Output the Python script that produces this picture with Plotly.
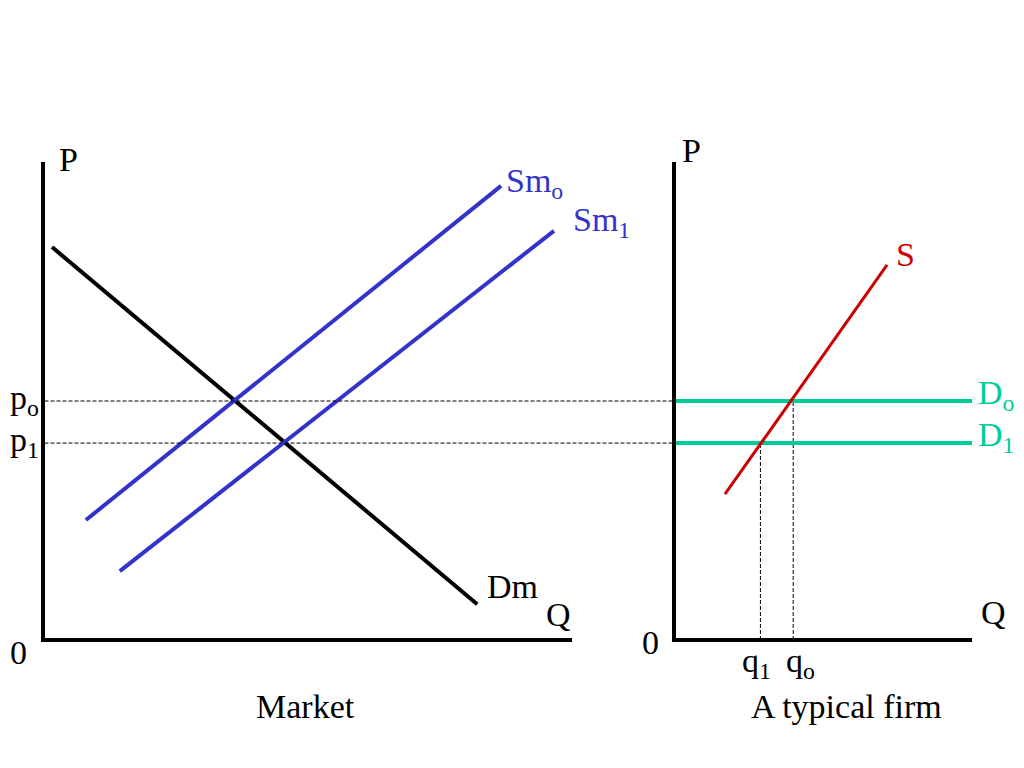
import plotly.graph_objects as go

# The page body adds an 8px margin; the figure is sized/positioned to compensate.
OFF = 8
W, H = 1024 - OFF, 768 - OFF

# ---- Market panel data (Q, P in panel units) ----
dm_q = [0.18, 8.21]
dm_p = [8.22, 0.75]
sm0_q = [0.82, 8.66]
sm0_p = [2.51, 9.50]
sm1_q = [1.46, 9.66]
sm1_p = [1.44, 8.56]
p0 = 5.0
p1 = 4.12

# ---- Typical firm panel data ----
s_q = [1.71, 7.15]
s_p = [3.05, 7.85]
d_q = [0, 10]
q0 = 4.0
q1 = 2.9

BLUE = "#3333CC"
TEAL = "#00CC99"
RED = "#CC0000"
FONT = "Liberation Serif, Times New Roman, serif"
DASH = dict(color="black", width=1, dash="4px,2px")


def px_x(x):
    return (x - OFF) / W


def px_y(y):
    return 1 - (y - OFF) / H


fig = go.Figure()

# Market
fig.add_trace(go.Scatter(x=dm_q, y=dm_p, mode="lines", line=dict(color="black", width=4),
                         xaxis="x", yaxis="y", showlegend=False))
fig.add_trace(go.Scatter(x=sm0_q, y=sm0_p, mode="lines", line=dict(color=BLUE, width=4),
                         xaxis="x", yaxis="y", showlegend=False))
fig.add_trace(go.Scatter(x=sm1_q, y=sm1_p, mode="lines", line=dict(color=BLUE, width=4),
                         xaxis="x", yaxis="y", showlegend=False))

# Firm
fig.add_trace(go.Scatter(x=[q1, q1], y=[0, p1], mode="lines", line=DASH,
                         xaxis="x2", yaxis="y2", showlegend=False))
fig.add_trace(go.Scatter(x=[q0, q0], y=[0, p0], mode="lines", line=DASH,
                         xaxis="x2", yaxis="y2", showlegend=False))
fig.add_trace(go.Scatter(x=d_q, y=[p0, p0], mode="lines", line=dict(color=TEAL, width=4),
                         xaxis="x2", yaxis="y2", showlegend=False))
fig.add_trace(go.Scatter(x=d_q, y=[p1, p1], mode="lines", line=dict(color=TEAL, width=4),
                         xaxis="x2", yaxis="y2", showlegend=False))
fig.add_trace(go.Scatter(x=s_q, y=s_p, mode="lines", line=dict(color=RED, width=3),
                         xaxis="x2", yaxis="y2", showlegend=False))

# axis lines are drawn half a line width outside the plot area: inset domains by 2px
ydom = [px_y(638), px_y(162)]
axis_common = dict(showgrid=False, zeroline=False, showticklabels=False, ticks="",
                   showline=True, linecolor="black", linewidth=4, mirror=False, fixedrange=True)

fig.update_layout(
    width=W, height=H,
    margin=dict(l=0, r=0, t=0, b=0),
    paper_bgcolor="white", plot_bgcolor="white",
    xaxis=dict(domain=[px_x(44.5), px_x(572)], range=[0.038, 10], **axis_common),
    yaxis=dict(domain=ydom, range=[0.042, 10], **axis_common),
    xaxis2=dict(domain=[px_x(676), px_x(972)], range=[0.067, 10], anchor="y2", **axis_common),
    yaxis2=dict(domain=ydom, range=[0.042, 10], anchor="x2", **axis_common),
)

# dashed price lines across panels
for p in (p0, p1):
    fig.add_shape(type="line", xref="paper", yref="y", x0=px_x(44.5), x1=px_x(674), y0=p, y1=p,
                  line=DASH)


def ann(text, x, y, color="black", xanchor="center", size=34):
    fig.add_annotation(text=text, x=px_x(x), y=px_y(y), xref="paper", yref="paper",
                       xanchor=xanchor, yanchor="middle", showarrow=False,
                       font=dict(family=FONT, size=size, color=color))


ann("P", 68, 160)
ann("P", 691, 151)
ann("0", 18, 652)
ann("0", 650, 642)
ann("Q", 558, 614)
ann("Q", 993, 612)
ann("Dm", 512, 586)
ann("Sm<sub>o</sub>", 504, 183, BLUE, xanchor="left")
ann("Sm<sub>1</sub>", 571, 222, BLUE, xanchor="left")
ann("S", 905, 254, RED)
ann("p<sub>o</sub>", 8, 400, xanchor="left")
ann("p<sub>1</sub>", 8, 442, xanchor="left")
ann("D<sub>o</sub>", 976, 395, TEAL, xanchor="left")
ann("D<sub>1</sub>", 976, 437, TEAL, xanchor="left")
ann("q<sub>1</sub>", 756, 663)
ann("q<sub>o</sub>", 800, 663)
ann("Market", 305, 706)
ann("A typical firm", 846, 706)

fig.write_html("out.html")
